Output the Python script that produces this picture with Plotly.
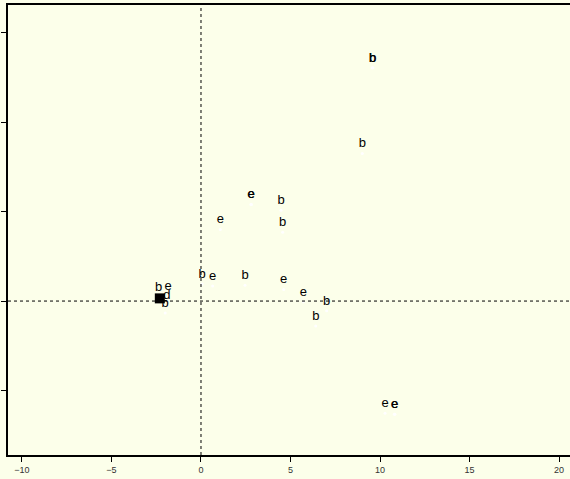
import plotly.graph_objects as go

# data
labels = ["b", "b", "b", "e", "e", "b", "e", "b", "b", "e", "b", "e", "e", "b", "b",
          "e", "e", "e", "b", "e", "d", "b"]
xs = [9.57, 9.60, 9.01, 2.79, 2.82, 4.47, 1.08, 4.56, 0.06, 0.65, 2.46, 4.62, 5.72, 7.02, 6.41,
      10.28, 10.80, 10.83, -2.37, -1.84, -1.90, -2.00]
ys = [13.03, 13.03, 8.25, 5.40, 5.40, 5.08, 4.00, 3.85, 0.95, 0.84, 0.89, 0.65, -0.04, -0.54, -1.40,
      -6.27, -6.33, -6.33, 0.22, 0.28, -0.22, -0.67]

cluster_x = [-2.30]
cluster_y = [0.15]

x_ticks = [-10, -5, 0, 5, 10, 15, 20]
x_tick_text = ["\u221210", "\u22125", "0", "5", "10", "15", "20"]
y_ticks = [-5, 0, 5, 10, 15]

bg = "#FCFFEA"
x_range = [-10.78, 21.17]
y_range = [-8.6, 16.54]

fig = go.Figure()
fig.add_trace(go.Scatter(
    x=xs, y=ys, mode="markers+text", text=labels, textposition="top center",
    textfont=dict(family="Liberation Sans, Arial", size=13, color="black"),
    marker=dict(size=3, color="white"), showlegend=False, cliponaxis=False))
fig.add_trace(go.Scatter(
    x=cluster_x, y=cluster_y, mode="markers",
    marker=dict(symbol="square", size=10, color="black", line=dict(width=0)),
    showlegend=False))

fig.add_shape(type="line", x0=0, x1=0, y0=y_range[0], y1=y_range[1], xref="x", yref="y",
              line=dict(color="black", width=1, dash="3px,3px"))
fig.add_shape(type="line", x0=x_range[0], x1=x_range[1], y0=0, y1=0, xref="x", yref="y",
              line=dict(color="black", width=1, dash="3px,3px"))

fig.update_layout(
    width=580, height=479, margin=dict(l=8, r=0, t=5, b=24),
    paper_bgcolor=bg, plot_bgcolor=bg,
    font=dict(family="Liberation Sans, Arial", size=9, color="#333333"),
    xaxis=dict(range=x_range, tickvals=x_ticks, ticktext=x_tick_text,
               showgrid=False, zeroline=False, showline=True, linecolor="black", linewidth=1.5,
               mirror=True, ticks="outside", ticklen=5, tickcolor="black",
               tickfont=dict(size=9, color="#333333")),
    yaxis=dict(range=y_range, tickvals=y_ticks, showticklabels=False,
               showgrid=False, zeroline=False, showline=True, linecolor="black", linewidth=1.5,
               ticks="outside", ticklen=5, tickcolor="black"),
)
fig.write_html("out.html", config={"displayModeBar": False},
               post_script="document.body.style.margin='0';document.body.style.overflow='hidden';")
